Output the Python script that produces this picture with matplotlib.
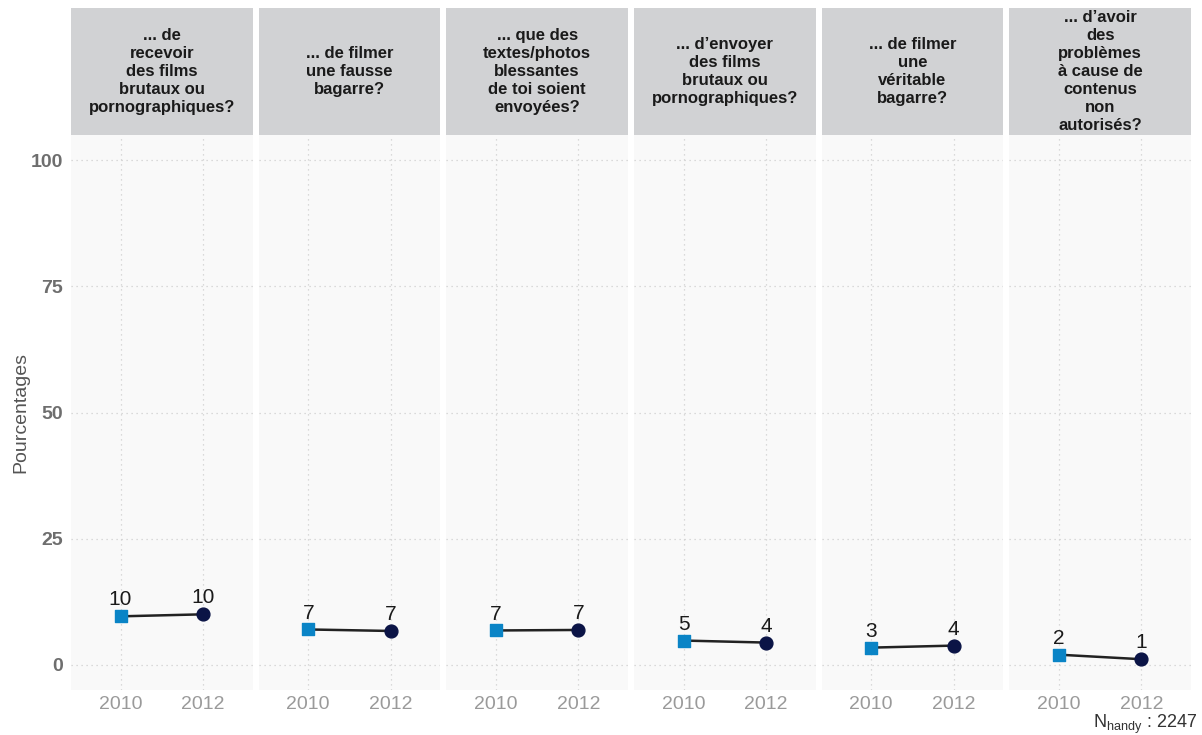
import matplotlib.pyplot as plt

plt.rcParams['font.family'] = ['Liberation Sans', 'DejaVu Sans']

titles = [
    "... de\nrecevoir\ndes films\nbrutaux ou\npornographiques?",
    "... de filmer\nune fausse\nbagarre?",
    "... que des\ntextes/photos\nblessantes\nde toi soient\nenvoyées?",
    "... d\u2019envoyer\ndes films\nbrutaux ou\npornographiques?",
    "... de filmer\nune\nvéritable\nbagarre?",
    "... d\u2019avoir\ndes\nproblèmes\nà cause de\ncontenus\nnon\nautorisés?",
]
years = [2010, 2012]
values_2010 = [9.6, 7.0, 6.8, 4.8, 3.4, 2.0]
values_2012 = [10.0, 6.7, 6.9, 4.4, 3.8, 1.1]
yticks = [0, 25, 50, 75, 100]

W, H = 1202, 735
fig = plt.figure(figsize=(W / 100, H / 100), dpi=100)

left, right = 71, 1191
gap = 6
n = len(titles)
pw = (right - left - gap * (n - 1)) / n
plot_top, plot_bot, strip_top = 135, 690, 8

c2010 = '#0a84c6'
c2012 = '#0b1446'

for i, title in enumerate(titles):
    x0 = left + i * (pw + gap)
    ax = fig.add_axes([x0 / W, 1 - plot_bot / H, pw / W, (plot_bot - plot_top) / H])
    ax.set_facecolor('#f9f9f9')
    for s in ax.spines.values():
        s.set_visible(False)
    ax.set_xlim(2008.8, 2013.2)
    ax.set_ylim(-5, 105)
    ax.set_xticks(years)
    ax.set_yticks(yticks)
    ax.grid(True, color='#cfcfcf', linestyle=(0, (1, 3)), linewidth=0.9)
    ax.set_axisbelow(True)
    ax.tick_params(length=0)
    ax.tick_params(axis='x', labelsize=14, labelcolor='#9a9a9a', pad=4)
    ax.tick_params(axis='y', labelsize=14, labelcolor='#6e6e6e', pad=6)
    if i == 0:
        for lab in ax.get_yticklabels():
            lab.set_fontweight('bold')
        ax.set_ylabel('Pourcentages', fontsize=14, color='#555555', labelpad=1)
    else:
        ax.set_yticklabels([])

    v = [values_2010[i], values_2012[i]]
    ax.plot(years, v, color='#222222', linewidth=1.8, zorder=3)
    ax.scatter([2010], [v[0]], marker='s', s=80, color=c2010, zorder=4)
    ax.scatter([2012], [v[1]], marker='o', s=85, color=c2012, zorder=4)
    for yr, val in zip(years, v):
        ax.annotate(f"{val:.0f}", (yr, val), xytext=(0, 5), textcoords='offset points',
                    ha='center', va='bottom', fontsize=15, color='#1a1a1a')

    sax = fig.add_axes([x0 / W, 1 - plot_top / H, pw / W, (plot_top - strip_top) / H])
    sax.set_facecolor('#d1d2d4')
    sax.set_xticks([])
    sax.set_yticks([])
    for s in sax.spines.values():
        s.set_visible(False)
    sax.text(0.5, 0.5, title, ha='center', va='center', fontsize=12, fontweight='bold',
             color='#1a1a1a', linespacing=1.25, transform=sax.transAxes)

fig.text(1197 / W, 1 - 728 / H, r'N$_{\mathregular{handy}}$ : 2247', ha='right', va='baseline',
         fontsize=13, color='#333333')

fig.savefig('out.png', dpi=100)
